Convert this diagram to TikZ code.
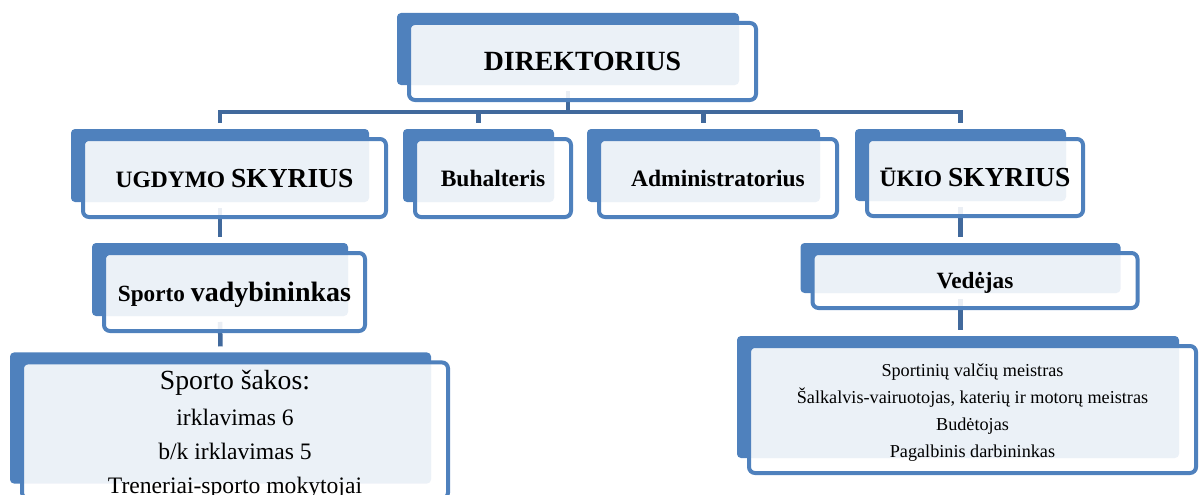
\documentclass[tikz,border=0pt]{standalone}
\usepackage{fontspec}
\setmainfont{Liberation Serif}
\usetikzlibrary{backgrounds,fit}
\definecolor{boxc}{HTML}{4F81BD}
\definecolor{connc}{HTML}{41699C}
\newcommand\setfs[1]{\fontsize{#1}{#1}\selectfont}
\begin{document}
\begin{tikzpicture}[x=1pt,y=-1pt,
  front/.style={draw=boxc, line width=4pt, fill=white, fill opacity=0.89, text opacity=1,
    rounded corners=6pt, inner sep=0pt, outer sep=0pt, align=center},
  single/.style={front, text depth=0pt, font=\bfseries},
  backbox/.style={fill=boxc, draw=none, rounded corners=4pt, inner sep=0pt, outer sep=0pt},
  conn/.style={draw=connc, line width=4.5pt, line join=miter, line cap=butt},
]
\useasboundingbox (0,0) rectangle (1199,495);

% front boxes (named nodes)
\node[single, minimum width=347pt, minimum height=77pt] (dir) at (582.5,61.5) {\setfs{27.8}DIREKTORIUS};
\node[single, minimum width=303pt, minimum height=78pt] (ug) at (234.5,178) {\setfs{23.5}UGDYMO \setfs{27.5}SKYRIUS};
\node[single, minimum width=156pt, minimum height=78pt] (buh) at (493,178) {\setfs{23.5}Buhalteris};
\node[single, minimum width=238pt, minimum height=78pt] (adm) at (718,178) {\setfs{23.5}Administratorius};
\node[single, minimum width=216pt, minimum height=77pt] (uk) at (975,177.5) {\setfs{23.5}ŪKIO \setfs{27.5}SKYRIUS};
\node[single, minimum width=261pt, minimum height=78pt] (sv) at (234.5,292) {\setfs{23.2}Sporto \setfs{28}vadybininkas};
\node[front, minimum width=426pt, minimum height=121pt, font={\fontsize{23.6}{34}\selectfont}] (ss) at (235,430.5)
  {\fontsize{27.7}{34}\selectfont\rule{0pt}{27pt}Sporto šakos:\\[2pt]
   \fontsize{23.6}{34}\selectfont irklavimas 6\\
   \fontsize{23.6}{34}\selectfont b/k irklavimas 5\\
   \fontsize{23.6}{34}\selectfont Treneriai-sporto mokytojai};
\node[single, minimum width=325pt, minimum height=55pt] (ved) at (975,280.5) {\setfs{23.3}Vedėjas};
\node[front, minimum width=447pt, minimum height=127pt, font={\fontsize{18.2}{27}\selectfont}] (wk) at (972.5,409.5)
  {\rule{0pt}{19pt}Sportinių valčių meistras\\
   Šalkalvis-vairuotojas, katerių ir motorų meistras\\
   Budėtojas\\
   Pagalbinis darbininkas};

\begin{scope}[on background layer]
  \foreach \n in {dir,ug,buh,adm,uk,sv,ss,ved,wk}{
    \node[backbox, fit={([xshift=-12pt,yshift=10pt]\n.north west) ([xshift=-17pt,yshift=15pt]\n.south east)}] (\n-b) {};
  }
  \coordinate (bus) at (0,112);
  \draw[conn] ([yshift=-6pt]dir-b.south) -- (dir-b.south |- bus);
  \draw[conn] ([yshift=6pt]ug-b.north) -- (ug-b.north |- bus) -- (uk-b.north |- bus) -- ([yshift=6pt]uk-b.north);
  \draw[conn] (buh-b.north |- bus) -- ([yshift=6pt]buh-b.north);
  \draw[conn] (adm-b.north |- bus) -- ([yshift=6pt]adm-b.north);
  \draw[conn] ([yshift=-6pt]ug-b.south) -- ([yshift=6pt]sv-b.north);
  \draw[conn] ([yshift=-6pt]sv-b.south) -- ([yshift=6pt]ss-b.north);
  \draw[conn] ([yshift=-6pt]uk-b.south) -- ([yshift=6pt]uk-b.south |- ved-b.north);
  \draw[conn] ([yshift=-6pt]ved-b.south) -- ([yshift=6pt]ved-b.south |- wk-b.north);
\end{scope}
\end{tikzpicture}
\end{document}
